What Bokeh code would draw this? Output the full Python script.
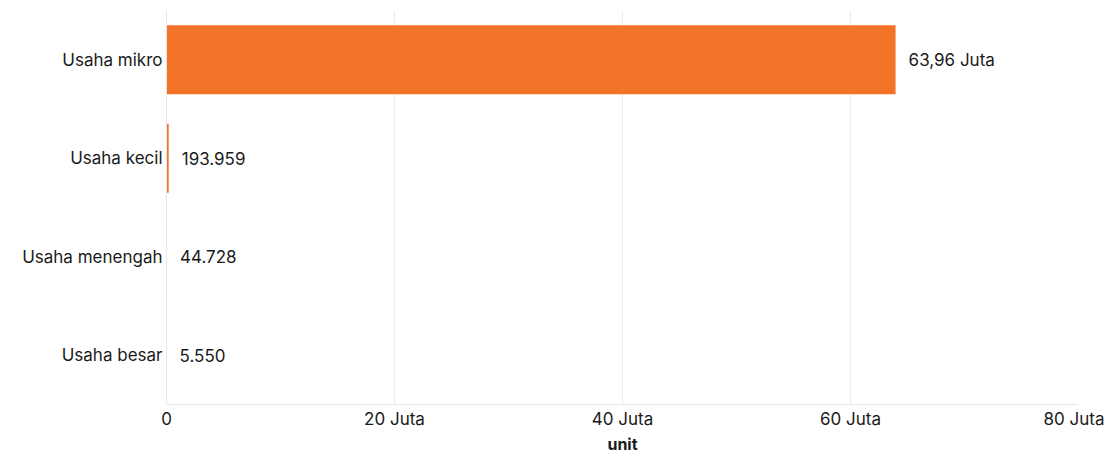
from bokeh.plotting import figure
from bokeh.models import ColumnDataSource, CustomJSTickFormatter, FixedTicker, Range1d
from bokeh.core.properties import value
from bokeh.embed import file_html
from bokeh.resources import INLINE

categories = ["Usaha mikro", "Usaha kecil", "Usaha menengah", "Usaha besar"]
values = [63955000, 193959, 44728, 5550]
labels = ["63,96 Juta", "193.959", "44.728", "5.550"]
x_ticks = [0, 20000000, 40000000, 60000000, 80000000]

FONT = "Inter"
FS = "17px"
src = ColumnDataSource(dict(cat=categories, val=values, lab=labels))

p = figure(width=1104, height=456, output_backend="svg", toolbar_location=None,
           y_range=list(reversed(categories)), x_range=Range1d(0, 80000000),
           min_border_left=166, min_border_right=26, min_border_top=10, min_border_bottom=40)
p.outline_line_color = None
p.hbar(y="cat", right="val", left=0, height=0.7, source=src,
       fill_color="#F37329", line_color=None)
p.text(x="val", y="cat", text="lab", source=src, x_offset=13,
       text_baseline="middle", text_align="left",
       text_font=value(FONT), text_font_size=FS, text_color="#1a1a1a")

p.xaxis.ticker = FixedTicker(ticks=x_ticks)
p.xaxis.formatter = CustomJSTickFormatter(code="return tick == 0 ? '0' : (tick/1e6) + ' Juta';")
p.xaxis.axis_label = "unit"
p.xaxis.axis_label_text_font = FONT
p.xaxis.axis_label_text_font_style = "bold"
p.xaxis.axis_label_text_font_size = "16px"
p.xaxis.axis_label_text_color = "#1a1a1a"
p.xaxis.axis_label_standoff = 2
for ax in (p.xaxis, p.yaxis):
    ax.major_label_text_font = FONT
    ax.major_label_text_font_size = FS
    ax.major_label_text_color = "#1a1a1a"
    ax.major_tick_line_color = None
    ax.minor_tick_line_color = None
    ax.major_tick_out = 0
    ax.major_tick_in = 0
    ax.axis_line_color = "#e8e8e8"
p.xaxis.major_label_standoff = 4
p.yaxis.major_label_standoff = 4
p.xgrid.grid_line_color = "#ebebeb"
p.ygrid.grid_line_color = None

open("out.html", "w").write(file_html(p, INLINE))
